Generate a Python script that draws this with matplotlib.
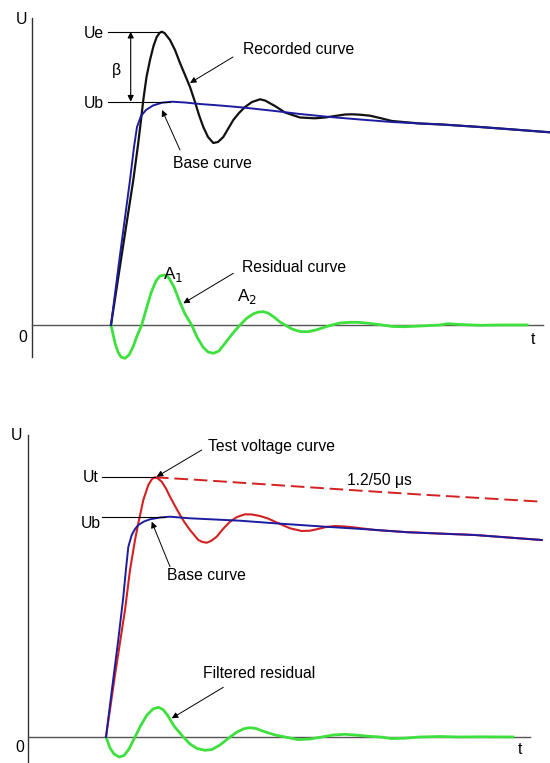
import matplotlib.pyplot as plt

plt.rcParams['font.family'] = ['Liberation Sans', 'DejaVu Sans']

# ---- top panel: recorded / base / residual (x in t units, y in U units) ----
top_base_t = [111, 120, 126, 130, 134, 137, 141, 146, 153, 162, 172, 185, 200, 220, 243, 275,
              300, 330, 360, 392, 420, 442, 480, 520, 550]
top_base_u = [0, 70, 115, 145, 178, 198, 209, 215, 219.5, 222.3, 223.3, 222.5, 221, 219.5, 217.5, 214,
              211, 208, 205.5, 203, 201.5, 200.5, 198, 195, 192.7]

top_rec_t = [111, 122, 133.3, 138, 141, 143.3, 146.5, 150, 153.5, 156.7, 159.5, 161.7, 164.5, 170, 175,
             180, 185, 190, 195, 199, 203.3, 208, 213.3, 218, 223.3, 228, 233.3, 239, 245, 252, 260,
             265, 270, 275, 285, 300, 315, 325, 335, 345, 352, 360, 370, 380, 392, 420, 442, 480,
             520, 550]
top_rec_u = [0, 72, 145, 180, 205, 225, 248, 265, 279, 288, 292, 293.3, 292, 285, 275, 262, 250, 238,
             223, 210, 198, 188, 182, 183, 188, 196, 205, 212, 218, 223, 225.7, 224.5, 221.7, 219,
             212.5, 207.5, 206.7, 207.5, 209, 210.5, 210.7, 210.3, 209.3, 207, 204, 201.5, 200.5,
             198, 195, 192.7]

top_res_t = [111, 115, 118, 121, 125, 129, 133, 137, 141.7, 146, 151, 156, 160, 165, 169, 174, 179,
             185, 191.7, 197, 203, 208, 213.3, 219, 226, 233, 240, 247, 254, 259, 263.3, 268, 274,
             280, 285, 292, 300, 308, 316, 325, 332, 340, 350, 358, 368, 382, 393, 405, 420, 440,
             448, 460, 480, 500, 527]
top_res_u = [0, -18, -27, -32, -33.3, -30, -22, -11, 0, 15, 32, 44, 49, 50, 47, 38, 25, 11, 0, -12,
             -22, -27, -28.3, -26, -17, -8, 0, 7, 11.5, 13, 13.3, 12, 8, 3, 0, -4, -6.5, -6.7, -5,
             -2, 0, 2, 2.7, 2.7, 1.8, 0, -1.5, -1.7, -1, 0, 1.3, 0.5, -0.3, 0, 0]

# ---- bottom panel: test voltage / base / filtered residual ----
bot_base_t = [106, 112, 118, 123.3, 126, 128.3, 131.7, 135, 138.3, 144, 150, 160, 170, 190, 240,
              275, 325, 370, 408, 475, 541.7]
bot_base_u = [0, 48, 95, 140, 168, 190, 202, 208, 212, 215.5, 217.7, 219.5, 220.3, 218.7, 216.3,
              213.7, 210.3, 207.5, 204.7, 202, 197]

bot_test_t = [106, 115, 125, 130, 135, 138.3, 143.3, 148.3, 152, 155, 158, 161.7, 166, 170, 175,
              180, 185, 190, 198.3, 202.5, 206.7, 211, 216.7, 223, 230, 237, 245, 252, 260, 268,
              276.7, 290, 301.7, 310, 318, 326, 335, 345, 355, 375, 405, 438, 475, 541.7]
bot_test_u = [0, 62, 127, 167, 197, 213.7, 237, 252, 258, 259.7, 258.5, 255.3, 248.5, 240.3, 231,
              222, 214, 207, 197, 195, 194.3, 196, 200.3, 208, 215.3, 220, 222.7, 222.5, 221, 218.5,
              214.5, 208.7, 206, 206.3, 208, 210, 211, 210.5, 209.5, 207, 205, 203.5, 202, 197]

bot_lim_t = [155, 200, 275, 350, 420, 480, 541.7]
bot_lim_u = [259.7, 257, 252, 247, 242.5, 239, 235.3]

bot_res_t = [106, 110, 114, 119.3, 124, 129, 135, 141, 147, 153, 158.3, 163, 168, 174, 183.3, 190,
             197, 205, 212, 220, 230, 237, 244, 250, 256, 264, 275, 285, 298, 310, 322, 333, 345,
             355, 368, 380, 392, 405, 420, 440, 460, 480, 513]
bot_res_u = [0, -11, -17, -20, -18.5, -12, 0, 12, 22, 28, 29.7, 27.5, 21, 11, 0, -7, -11.5, -13.3,
             -12.5, -8, 0, 5, 8.3, 9.3, 8.5, 5.5, 2, 0, -2.6, -2, 0, 2, 2.7, 2, 0.8, 0, -1.6,
             -1.2, 0, 0.5, 0, 0.2, 0]

c_black = '#111111'
c_blue = '#1c1ca0'
c_green = '#3ee03e'
c_red = '#d42020'
c_axis = '#555555'
fs = 11.3

fig = plt.figure(figsize=(5.5, 7.63), dpi=100)
ax1 = fig.add_axes([0, 1 - 380 / 763, 1, 380 / 763])
ax2 = fig.add_axes([0, 0, 1, 383 / 763])
ax1.set_xlim(0, 550)
ax1.set_ylim(-55, 325)
ax2.set_xlim(0, 550)
ax2.set_ylim(-26, 357)
for ax in (ax1, ax2):
    ax.axis('off')

arrow = dict(arrowstyle='-|>', lw=0.7, color='black', mutation_scale=9, shrinkA=0, shrinkB=0)

# --- top panel ---
ax1.plot([31.7, 31.7], [307, -32], color='#333333', lw=1)
ax1.plot([31.7, 543], [0, 0], color=c_axis, lw=1)
ax1.plot(top_res_t, top_res_u, color=c_green, lw=2)
ax1.plot(top_rec_t, top_rec_u, color=c_black, lw=1.6)
ax1.plot(top_base_t, top_base_u, color=c_blue, lw=1.4)

ax1.plot([108, 161], [293.3, 293.3], color='black', lw=0.8)
ax1.plot([108, 170], [223.3, 223.3], color='black', lw=0.8)
ax1.annotate('', xy=(130.7, 293.3), xytext=(130.7, 223.3),
             arrowprops=dict(arrowstyle='<|-|>', lw=0.8, color='black', mutation_scale=9,
                             shrinkA=0, shrinkB=0))
ax1.text(104, 292, 'Ue', ha='right', va='center', fontsize=fs)
ax1.text(104, 222, 'Ub', ha='right', va='center', fontsize=fs)
ax1.text(116.5, 255, 'β', ha='center', va='center', fontsize=fs)
ax1.text(21.7, 305, 'U', ha='center', va='center', fontsize=fs)
ax1.text(23, -12, '0', ha='center', va='center', fontsize=fs)
ax1.text(533, -15, 't', ha='center', va='center', fontsize=fs)

ax1.text(243, 275, 'Recorded curve', ha='left', va='center', fontsize=fs)
ax1.annotate('', xy=(190, 242), xytext=(233, 268), arrowprops=arrow)
ax1.text(173, 162, 'Base curve', ha='left', va='center', fontsize=fs)
ax1.annotate('', xy=(162, 215), xytext=(180, 175), arrowprops=arrow)
ax1.text(242, 57, 'Residual curve', ha='left', va='center', fontsize=fs)
ax1.annotate('', xy=(183.3, 21.7), xytext=(233.3, 51.7), arrowprops=arrow)
ax1.text(163, 50, 'A$_1$', ha='left', va='center', fontsize=fs + 1)
ax1.text(237, 28, 'A$_2$', ha='left', va='center', fontsize=fs + 1)

# --- bottom panel ---
ax2.plot([28.3, 28.3], [302, -30], color='#333333', lw=1)
ax2.plot([28.3, 530], [0, 0], color=c_axis, lw=1)
ax2.plot(bot_res_t, bot_res_u, color=c_green, lw=2)
ax2.plot(bot_lim_t, bot_lim_u, color=c_red, lw=1.4, dashes=(7, 3))
ax2.plot(bot_test_t, bot_test_u, color=c_red, lw=1.5)
ax2.plot(bot_base_t, bot_base_u, color=c_blue, lw=1.4)

ax2.plot([101.7, 155], [259.7, 259.7], color='black', lw=0.8)
ax2.plot([101.7, 165], [219.7, 219.7], color='black', lw=0.8)
ax2.text(99, 259.7, 'Ut', ha='right', va='center', fontsize=fs)
ax2.text(101, 213, 'Ub', ha='right', va='center', fontsize=fs)
ax2.text(16.7, 301, 'U', ha='center', va='center', fontsize=fs)
ax2.text(20, -11, '0', ha='center', va='center', fontsize=fs)
ax2.text(520, -13, 't', ha='center', va='center', fontsize=fs)

ax2.text(208.3, 291, 'Test voltage curve', ha='left', va='center', fontsize=fs)
ax2.annotate('', xy=(156.7, 260.3), xytext=(201.7, 287), arrowprops=arrow)
ax2.text(346.7, 257, '1.2/50 μs', ha='left', va='center', fontsize=fs)
ax2.text(166.7, 161, 'Base curve', ha='left', va='center', fontsize=fs)
ax2.annotate('', xy=(151.7, 215.3), xytext=(170, 170.3), arrowprops=arrow)
ax2.text(203.3, 63.7, 'Filtered residual', ha='left', va='center', fontsize=fs)
ax2.annotate('', xy=(171.7, 18.7), xytext=(223.3, 49.7), arrowprops=arrow)

fig.savefig('out.png', dpi=100)
